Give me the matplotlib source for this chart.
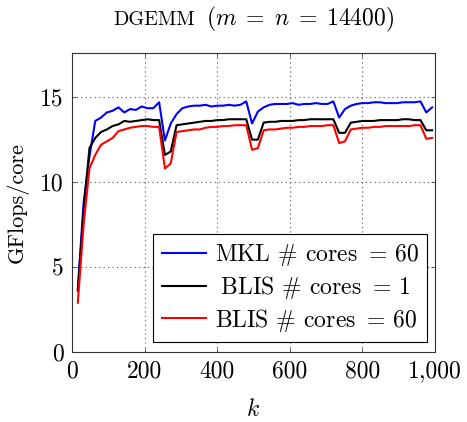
import numpy as np
import matplotlib
matplotlib.use("Agg")
import matplotlib.pyplot as plt
from matplotlib.ticker import FuncFormatter
from matplotlib.offsetbox import TextArea, HPacker, AnchoredOffsetbox

# data (k step 16)
k = [16, 32, 48, 64, 80, 96, 112, 128, 144, 160, 176, 192, 208, 224, 240,
     256, 272,
     288, 304, 320, 336, 352, 368, 384, 400, 416, 432, 448, 464, 480,
     496, 512,
     528, 544, 560, 576, 592, 608, 624, 640, 656, 672, 688, 704, 720,
     736, 752,
     768, 784, 800, 816, 832, 848, 864, 880, 896, 912, 928, 944, 960,
     976, 992]

mkl_60 = [3.7, 8.8, 11.5, 13.6, 13.8, 14.1, 14.2, 14.4, 14.1, 14.3, 14.25, 14.45, 14.35, 14.35, 14.7,
          12.45, 13.45,
          14.0, 14.35, 14.45, 14.5, 14.5, 14.55, 14.45, 14.5, 14.5, 14.55, 14.5, 14.55, 14.75,
          13.45, 14.15,
          14.4, 14.55, 14.6, 14.6, 14.6, 14.65, 14.55, 14.6, 14.6, 14.65, 14.6, 14.6, 14.75,
          13.8, 14.3,
          14.5, 14.6, 14.65, 14.65, 14.7, 14.7, 14.65, 14.65, 14.65, 14.7, 14.7, 14.7, 14.75,
          14.1, 14.4]

blis_1 = [3.6, 8.3, 12.0, 12.6, 12.95, 13.1, 13.3, 13.4, 13.6, 13.55, 13.6, 13.65, 13.7, 13.65, 13.65,
          11.6, 11.8,
          13.35, 13.4, 13.45, 13.5, 13.55, 13.6, 13.6, 13.65, 13.65, 13.7, 13.7, 13.7, 13.7,
          12.5, 12.5,
          13.5, 13.55, 13.55, 13.6, 13.6, 13.6, 13.65, 13.65, 13.7, 13.7, 13.7, 13.7, 13.7,
          12.9, 12.9,
          13.5, 13.55, 13.6, 13.6, 13.6, 13.65, 13.65, 13.65, 13.65, 13.7, 13.7, 13.65, 13.65,
          13.05, 13.05]

blis_60 = [2.9, 7.5, 10.8, 11.6, 12.2, 12.4, 12.6, 13.0, 13.1, 13.2, 13.25, 13.3, 13.3, 13.25, 13.25,
           10.8, 11.1,
           12.95, 13.0, 13.05, 13.1, 13.1, 13.2, 13.25, 13.25, 13.3, 13.3, 13.35, 13.35, 13.35,
           11.9, 12.0,
           13.05, 13.1, 13.1, 13.15, 13.2, 13.2, 13.25, 13.25, 13.3, 13.3, 13.3, 13.35, 13.35,
           12.3, 12.4,
           13.1, 13.15, 13.2, 13.2, 13.25, 13.25, 13.3, 13.3, 13.3, 13.3, 13.3, 13.35, 13.35,
           12.55, 12.6]

labels = [r"MKL # cores $=\,60$", r"$\;$BLIS # cores $=\,1$", r"BLIS # cores $=\,60$"]
colors = ["blue", "black", "red"]

plt.rcParams['font.family'] = ['cmr10', 'DejaVu Serif']
plt.rcParams['mathtext.fontset'] = 'cm'
plt.rcParams['axes.formatter.use_mathtext'] = True
fs = 17

fig = plt.figure(figsize=(4.67, 4.22), dpi=100)
ax = fig.add_axes([72/467, 1 - 352/422, (435-72)/467, (352-53)/422])

for y, lab, c in zip([mkl_60, blis_1, blis_60], labels, colors):
    ax.plot(k, y, color=c, lw=1.5, label=lab)

ax.set_xlim(0, 1000)
ax.set_ylim(0, 17.6)
ax.set_xticks([0, 200, 400, 600, 800, 1000])
ax.set_yticks([0, 5, 10, 15])
ax.xaxis.set_major_formatter(FuncFormatter(lambda v, p: f"{int(v):,}"))
ax.yaxis.set_major_formatter(FuncFormatter(lambda v, p: f"{int(v)}"))
ax.tick_params(direction='in', top=True, right=True, length=3, width=0.6,
               labelsize=fs, pad=6, color='#444444')
ax.grid(True, linestyle=(0, (1, 3)), color='#555555', lw=0.8)
for s in ax.spines.values():
    s.set_linewidth(0.8)
    s.set_color('#333333')

ax.set_xlabel("$k$", fontsize=fs, labelpad=12)
ax.set_ylabel("GFlops/core", fontsize=16, labelpad=8)

leg = ax.legend(loc='lower right', bbox_to_anchor=((427-72)/363, 10/299),
                borderaxespad=0, fontsize=fs, fancybox=False, framealpha=1,
                edgecolor='black', handlelength=1.9, handletextpad=0.35,
                labelspacing=0.25, borderpad=0.35)
leg.get_frame().set_linewidth(0.8)

# title: small caps dgemm + math
t1 = TextArea("DGEMM", textprops=dict(fontsize=14.5, family='cmr10'))
t2 = TextArea(r"$(m\;=\;n\;=\;14400)$", textprops=dict(fontsize=fs))
box = HPacker(children=[t1, t2], align="baseline", pad=0, sep=8)
anch = AnchoredOffsetbox(loc='lower center', child=box, pad=0, borderpad=0,
                         frameon=False, bbox_to_anchor=(0.5, 1.065),
                         bbox_transform=ax.transAxes)
ax.add_artist(anch)

fig.savefig("out.png", dpi=100)
